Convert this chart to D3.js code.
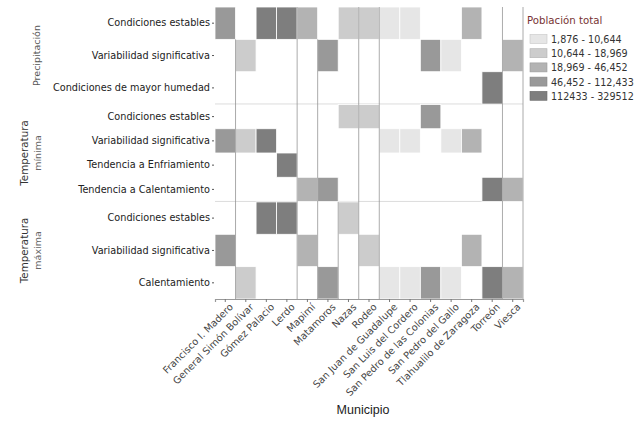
<!DOCTYPE html>
<html><head><meta charset="utf-8">
<script src="https://cdn.jsdelivr.net/npm/d3@7"></script>
<style>html,body{margin:0;padding:0;background:#fff;}svg{display:block;}</style>
</head><body><svg id="chart" width="642" height="428"></svg>
<script>
const municipios = ["Francisco I. Madero","General Simón Bolívar","Gómez Palacio","Lerdo","Mapimí","Matamoros","Nazas","Rodeo","San Juan de Guadalupe","San Luis del Cordero","San Pedro de las Colonias","San Pedro del Gallo","Tlahualilo de Zaragoza","Torreón","Viesca"];
const poblacionClase = [4,2,5,5,3,4,2,2,1,1,4,1,3,5,3];
const legendLabels = ["1,876 - 10,644","10,644 - 18,969","18,969 - 46,452","46,452 - 112,433","112433 - 329512"];
const panelNames = ["Precipitación","Temperatura mínima","Temperatura máxima"];
const precipCats = ["Condiciones estables","Variabilidad significativa","Condiciones de mayor humedad"];
const tminCats = ["Condiciones estables","Variabilidad significativa","Tendencia a Enfriamiento","Tendencia a Calentamiento"];
const tmaxCats = ["Condiciones estables","Variabilidad significativa","Calentamiento"];
const CE="Condiciones estables", VS="Variabilidad significativa";
const precipValues = [CE,VS,CE,CE,CE,VS,CE,CE,CE,CE,VS,VS,CE,"Condiciones de mayor humedad",VS];
const tminValues = [VS,VS,VS,"Tendencia a Enfriamiento","Tendencia a Calentamiento","Tendencia a Calentamiento",CE,CE,VS,VS,CE,VS,VS,"Tendencia a Calentamiento","Tendencia a Calentamiento"];
const tmaxValues = [VS,"Calentamiento",CE,CE,VS,"Calentamiento",CE,VS,"Calentamiento","Calentamiento","Calentamiento","Calentamiento",VS,"Calentamiento","Calentamiento"];

const fills = ["#e6e6e6","#cccccc","#b3b3b3","#999999","#7e7e7e"];
const panelCats = [precipCats, tminCats, tmaxCats];
const panelVals = [precipValues, tminValues, tmaxValues];

const svg = d3.select("#chart");
const x = d3.scaleBand().domain(municipios).range([215,523]);
const color = d3.scaleOrdinal().domain([1,2,3,4,5]).range(fills);
const py = d3.scaleBand().domain(panelNames).range([7,299]).paddingInner(0.004);

// panel separators
panelNames.slice(1).forEach(p=>{
  svg.append("line").attr("x1",215).attr("x2",523)
    .attr("y1",py(p)-0.5).attr("y2",py(p)-0.5)
    .attr("stroke","#dcdcdc").attr("stroke-width",1);
});

panelNames.forEach((p,pi)=>{
  const y = d3.scaleBand().domain(panelCats[pi]).range([py(p), py(p)+py.bandwidth()]);
  const g = svg.append("g");
  const data = municipios.map((m,i)=>({m, c: panelVals[pi][i], k: poblacionClase[i]}));
  g.selectAll("rect").data(data).join("rect")
    .attr("x",d=>x(d.m)).attr("y",d=>y(d.c))
    .attr("width",x.bandwidth()).attr("height",y.bandwidth())
    .attr("fill",d=>color(d.k)).attr("stroke","#fff").attr("stroke-width",0.8);
  const ax = d3.axisLeft(y).tickSize(2).tickPadding(2);
  const ga = svg.append("g").attr("transform","translate(214,0)").call(ax);
  ga.select(".domain").remove();
  ga.selectAll("line").attr("stroke","#555");
  ga.selectAll("text").attr("font-family","DejaVu Sans").attr("font-size",9.7).attr("fill","#222");
});

// vertical lines at some column boundaries (as in the reference)
const boundaries = [
  {k:1, from:1}, {k:4, from:0}, {k:5, from:1}, {k:6, from:2}, {k:7, from:0}, {k:8, from:0}, {k:14, from:0}, {k:15, from:0}
];
boundaries.forEach(b=>{
  const xv = b.k<municipios.length ? x(municipios[b.k]) : x.range()[1];
  const y0 = b.from===0 ? 7 : (b.from===1 ? py(panelNames[0]) + py.bandwidth()/3 : py(panelNames[2]));
  svg.append("line").attr("x1",xv).attr("x2",xv).attr("y1",y0).attr("y2",299)
    .attr("stroke","#8f8f8f").attr("stroke-opacity",0.75).attr("stroke-width",1);
});

// x axis
const gx = svg.append("g").attr("transform","translate(0,299)").call(d3.axisBottom(x).tickSize(3).tickPadding(2));
gx.select(".domain").attr("stroke","#999").attr("stroke-width",1.2);
gx.selectAll("line").attr("stroke","#777");
gx.selectAll("text").attr("font-family","DejaVu Sans").attr("font-size",9.8).attr("fill","#444")
  .attr("text-anchor","end").attr("dy",0)
  .attr("transform","translate(5,5) rotate(-45)");

// strip labels
svg.append("text").attr("transform",`translate(40,${py(panelNames[0])+py.bandwidth()/2}) rotate(-90)`)
  .attr("text-anchor","middle").attr("font-family","DejaVu Sans").attr("font-size",9.5).attr("fill","#555").text("Precipitación");
[["Temperatura","mínima"],["Temperatura","máxima"]].forEach((lines,i)=>{
  const cy = py(panelNames[i+1])+py.bandwidth()/2;
  svg.append("text").attr("transform",`translate(28,${cy}) rotate(-90)`)
    .attr("text-anchor","middle").attr("font-family","DejaVu Sans").attr("font-size",10.3).attr("fill","#333").text(lines[0]);
  svg.append("text").attr("transform",`translate(41,${cy}) rotate(-90)`)
    .attr("text-anchor","middle").attr("font-family","DejaVu Sans").attr("font-size",9.5).attr("fill","#666").text(lines[1]);
});

// x title
svg.append("text").attr("x",363).attr("y",414).attr("text-anchor","middle")
  .attr("font-family","Liberation Sans").attr("font-size",12.5).attr("fill","#222").text("Municipio");

// legend
const lg = svg.append("g").attr("transform","translate(527,0)");
lg.append("text").attr("x",0).attr("y",24).attr("font-family","DejaVu Sans").attr("font-size",10.2).attr("fill","#733").text("Población total");
const ly = d3.scaleBand().domain(legendLabels).range([33,104]);
legendLabels.forEach((l,i)=>{
  lg.append("rect").attr("x",3).attr("y",ly(l)+1.5).attr("width",17).attr("height",9)
    .attr("fill",fills[i]).attr("stroke",d3.color(fills[i]).darker(0.4)).attr("stroke-width",0.6);
  lg.append("text").attr("x",24).attr("y",ly(l)+10).attr("font-family","DejaVu Sans").attr("font-size",9.6).attr("fill","#333").text(l);
});
</script></body></html>
